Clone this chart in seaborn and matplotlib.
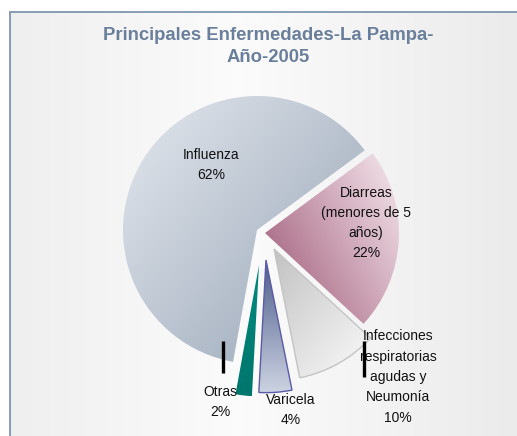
import numpy as np
import matplotlib
matplotlib.use("Agg")
import matplotlib.pyplot as plt
import seaborn as sns

# data
diseases = ["Influenza", "Otras", "Varicela",
            "Infecciones\nrespiratorias\nagudas y\nNeumonía",
            "Diarreas\n(menores de 5\naños)"]
percent = [62, 2, 4, 10, 22]
title_lines = ["Principales Enfermedades-La Pampa-", "Año-2005"]

# layout (pixels of the 517x436 image)
W, H = 517, 436
CX, CY, R = 257, 230, 134
explode = [0.0, 0.28, 0.24, 0.20, 0.06]
apex_px = [(257, 230), (259, 265), (266, 260), (274, 249), (265, 233)]
radius = [1.0, 0.98, 0.99, 0.98, 1.0]
label_px = [(211, 165), (220, 402), (291, 410), (398, 377), (366, 223)]
# gradient: start colour, end colour, direction (deg)
grads = [("#e4e8ee", "#95a3b5", -40),
         ("#00897f", "#00766d", -90),
         ("#4c5b8a", "#cdd4e2", -90),
         ("#c2c2c2", "#fbfbfb", -40),
         ("#9c5473", "#f7eaf0", 28)]
edges = [None, None, "#5b5ba8", "#c4c4c4", None]

sns.set_theme(style="white")
plt.rcParams['font.family'] = ['Liberation Sans', 'DejaVu Sans']


def px(x, y):
    return (x - CX) / R, (CY - y) / R


fig = plt.figure(figsize=(W / 100, H / 100), dpi=100)

# background panel with soft horizontal gradient
bg = fig.add_axes([0, 0, 1, 1], zorder=0)
bg.set_xlim(0, W)
bg.set_ylim(H, 0)
bg.axis("off")
grad = np.interp(np.linspace(0, 1, 400), [0, 0.45, 1], [0.935, 0.985, 0.92])
bg_cmap = sns.blend_palette(["#e6e6e6", "#ffffff"], as_cmap=True)
bg.imshow(np.tile((grad - 0.9) / 0.1, (10, 1)), cmap=bg_cmap, vmin=0, vmax=1,
          extent=(9, W, H, 12), aspect="auto", interpolation="bilinear")
bg.plot([9, W], [12.5, 12.5], color="#8096ae", lw=1.3, solid_capstyle="butt")
bg.plot([9.5, 9.5], [12, H], color="#8096ae", lw=1.3, solid_capstyle="butt")

ax = fig.add_axes([0, 0, 1, 1], zorder=1)
ax.patch.set_alpha(0)
wedges, _ = ax.pie(percent, explode=explode, startangle=36.5, counterclock=True,
                   radius=1.0, wedgeprops=dict(linewidth=0))

for w, r, (c0, c1, ang), ec, apex in zip(wedges, radius, grads, edges, apex_px):
    w.set_radius(r)
    w.set_center(px(*apex))
    w.set_facecolor("none")
    if ec:
        w.set_edgecolor(ec)
        w.set_linewidth(1.0)
    w.set_zorder(3)
    verts = w.get_path().vertices
    x0, y0 = verts.min(axis=0)
    x1, y1 = verts.max(axis=0)
    gx, gy = np.meshgrid(np.linspace(x0, x1, 256), np.linspace(y0, y1, 256))
    a = np.deg2rad(ang)
    t = gx * np.cos(a) + gy * np.sin(a)
    t = (t - t.min()) / (t.max() - t.min())
    cmap = sns.blend_palette([c0, c1], as_cmap=True)
    im = ax.imshow(t, cmap=cmap, extent=(x0, x1, y0, y1), origin="lower",
                   aspect="auto", interpolation="bilinear", zorder=2)
    im.set_clip_path(w)

for name, p, (lx, ly) in zip(diseases, percent, label_px):
    x, y = px(lx, ly)
    ax.text(x, y, f"{name}\n{p}%", ha="center", va="center", multialignment="center",
            fontsize=10, linespacing=1.57, color="#111111", zorder=5)

# small black marks that sit over the lower labels
for bx, by0, by1 in [(223, 341, 373), (364, 341, 377)]:
    xa, ya = px(bx, by0)
    xb, yb = px(bx, by1)
    ax.plot([xa, xb], [ya, yb], color="black", lw=2.4, solid_capstyle="butt", zorder=6)

ax.set_xlim(-CX / R, (W - CX) / R)
ax.set_ylim((CY - H) / R, CY / R)
ax.set_aspect("auto")
ax.axis("off")

fig.text(268 / W, 1 - 35 / H, title_lines[0], ha="center", va="center",
         fontsize=13.3, fontweight="bold", color="#6a7f9b")
fig.text(268 / W, 1 - 58 / H, title_lines[1], ha="center", va="center",
         fontsize=13.3, fontweight="bold", color="#6a7f9b")

fig.savefig("out.png", dpi=100)
